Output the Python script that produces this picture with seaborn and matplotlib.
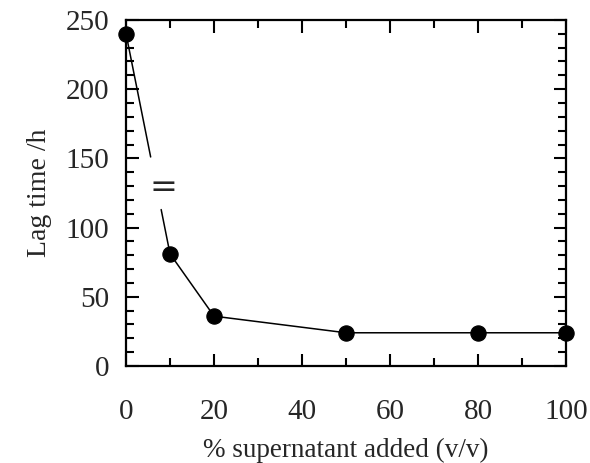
import numpy as np
import pandas as pd
import matplotlib
matplotlib.use("Agg")
import matplotlib.pyplot as plt
import seaborn as sns
from matplotlib.ticker import MultipleLocator

# data
supernatant = [0, 10, 20, 50, 80, 100]
lag_time = [240, 81, 36, 24, 24, 24]
# y values where the axis break interrupts the first segment
break_y = [151, 113]

sns.set_style("ticks")
plt.rcParams['font.family'] = ['Liberation Serif', 'DejaVu Serif']

df = pd.DataFrame({'x': supernatant, 'y': lag_time})

fig = plt.figure(figsize=(5.9, 4.63), dpi=100)
ax = fig.add_axes([0.2136, 0.2095, 0.7458, 0.7475])

# first segment, interrupted by the break
x0, x1 = supernatant[0], supernatant[1]
y0, y1 = lag_time[0], lag_time[1]
bx = [x0 + (x1 - x0) * (y0 - b) / (y0 - y1) for b in break_y]
ax.plot([x0, bx[0]], [y0, break_y[0]], color='black', lw=1.1)
ax.plot([bx[1], x1], [break_y[1], y1], color='black', lw=1.1)
ax.text(8.6, 129, '=', fontsize=24, ha='center', va='center',
        family=['DejaVu Sans'])

sns.lineplot(data=df.iloc[1:], x='x', y='y', ax=ax, color='black', lw=1.1,
             marker=None)
sns.scatterplot(data=df, x='x', y='y', ax=ax, color='black', s=120,
                edgecolor='black', zorder=5, clip_on=False)

ax.set_xlim(0, 100)
ax.set_ylim(0, 250)
ax.xaxis.set_major_locator(MultipleLocator(20))
ax.xaxis.set_minor_locator(MultipleLocator(10))
ax.yaxis.set_major_locator(MultipleLocator(50))
ax.yaxis.set_minor_locator(MultipleLocator(10))
ax.tick_params(which='both', direction='in', top=True, right=True,
               width=1.5, labelsize=21, color='black')
ax.tick_params(which='major', length=9)
ax.tick_params(which='minor', length=6)
ax.tick_params(axis='x', which='major', pad=24)
ax.tick_params(axis='y', which='major', pad=12)
for s in ax.spines.values():
    s.set_linewidth(1.6)
    s.set_color('black')

ax.set_xlabel('% supernatant added (v/v)', fontsize=19.5, labelpad=9)
ax.set_ylabel('Lag time /h', fontsize=20, labelpad=10)

fig.savefig('out.png', dpi=100)
